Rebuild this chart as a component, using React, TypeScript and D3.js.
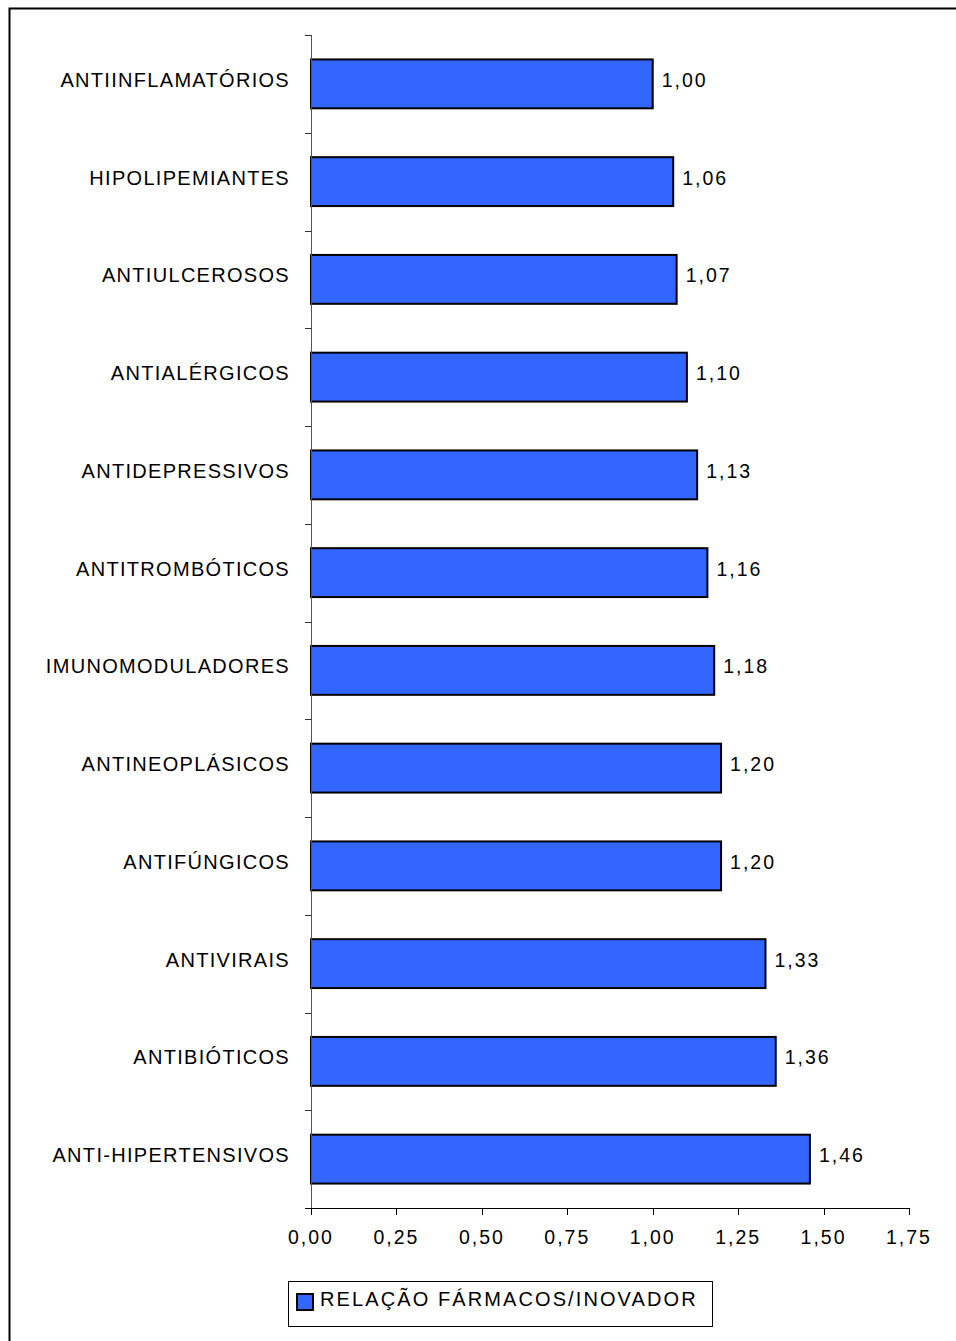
import React from "react";
import * as d3 from "d3";

const categories = [
  "ANTIINFLAMATÓRIOS",
  "HIPOLIPEMIANTES",
  "ANTIULCEROSOS",
  "ANTIALÉRGICOS",
  "ANTIDEPRESSIVOS",
  "ANTITROMBÓTICOS",
  "IMUNOMODULADORES",
  "ANTINEOPLÁSICOS",
  "ANTIFÚNGICOS",
  "ANTIVIRAIS",
  "ANTIBIÓTICOS",
  "ANTI-HIPERTENSIVOS",
];
const values = [1.0, 1.06, 1.07, 1.1, 1.13, 1.16, 1.18, 1.2, 1.2, 1.33, 1.36, 1.46];
const xTicks = [0, 0.25, 0.5, 0.75, 1.0, 1.25, 1.5, 1.75];
const seriesName = "RELAÇÃO FÁRMACOS/INOVADOR";

const W = 956;
const H = 1341;
const BAR = "#3366FF";
const FONT = "'Liberation Sans', Arial, sans-serif";

const fmt = (v: number) => v.toFixed(2).replace(".", ",");

export default function App() {
  const x = d3.scaleLinear().domain([0, 1.75]).range([311, 909]);
  const y = d3
    .scaleBand<string>()
    .domain(categories)
    .range([35, 1208])
    .paddingInner(0.5)
    .paddingOuter(0.25);
  const top = 35;
  const bottom = 1208;
  const bounds = d3.range(categories.length + 1).map((i) => top + i * ((bottom - top) / categories.length));

  return (
    <svg
      width={W}
      height={H}
      style={{ position: "absolute", left: 0, top: 0, background: "#fff" }}
      fontFamily={FONT}
    >
      {/* outer frame */}
      <rect x={9.5} y={8.5} width={1200} height={1600} fill="none" stroke="#000" strokeWidth={2} />

      {/* bars */}
      {categories.map((c, i) => (
        <rect
          key={c}
          x={x(0)}
          y={y(c)!}
          width={x(values[i]) - x(0)}
          height={y.bandwidth()}
          fill={BAR}
          stroke="#000"
          strokeWidth={2}
        />
      ))}

      {/* y axis */}
      <line x1={311.5} x2={311.5} y1={top} y2={bottom} stroke="#555" strokeWidth={1} />
      {bounds.map((b, i) => (
        <line key={i} x1={305} x2={311.5} y1={Math.round(b) + 0.5} y2={Math.round(b) + 0.5} stroke="#333" />
      ))}

      {/* x axis */}
      <line x1={305} x2={x(1.75) + 0.5} y1={bottom + 0.5} y2={bottom + 0.5} stroke="#000" />
      {xTicks.map((t) => (
        <g key={t}>
          <line
            x1={Math.round(x(t)) + 0.5}
            x2={Math.round(x(t)) + 0.5}
            y1={bottom}
            y2={bottom + 7}
            stroke="#000"
          />
          <text
            x={x(t)}
            y={1244}
            textAnchor="middle"
            fontSize={19.5}
            letterSpacing={2}
            fill="#000"
          >
            {fmt(t)}
          </text>
        </g>
      ))}

      {/* category labels */}
      {categories.map((c) => (
        <text
          key={c}
          x={290}
          y={y(c)! + y.bandwidth() / 2 + 3}
          textAnchor="end"
          fontSize={20}
          letterSpacing={1.3}
          fill="#000"
        >
          {c}
        </text>
      ))}

      {/* value labels */}
      {categories.map((c, i) => (
        <text
          key={c}
          x={x(values[i]) + 9}
          y={y(c)! + y.bandwidth() / 2 + 3}
          fontSize={19.5}
          letterSpacing={2}
          fill="#000"
        >
          {fmt(values[i])}
        </text>
      ))}

      {/* legend */}
      <rect x={288.5} y={1281.5} width={424} height={45} fill="#fff" stroke="#000" strokeWidth={1} />
      <rect x={297} y={1294} width={16} height={16} fill={BAR} stroke="#000" strokeWidth={2} />
      <text x={320} y={1306} fontSize={20} letterSpacing={2.1} fill="#000">
        {seriesName}
      </text>
    </svg>
  );
}
